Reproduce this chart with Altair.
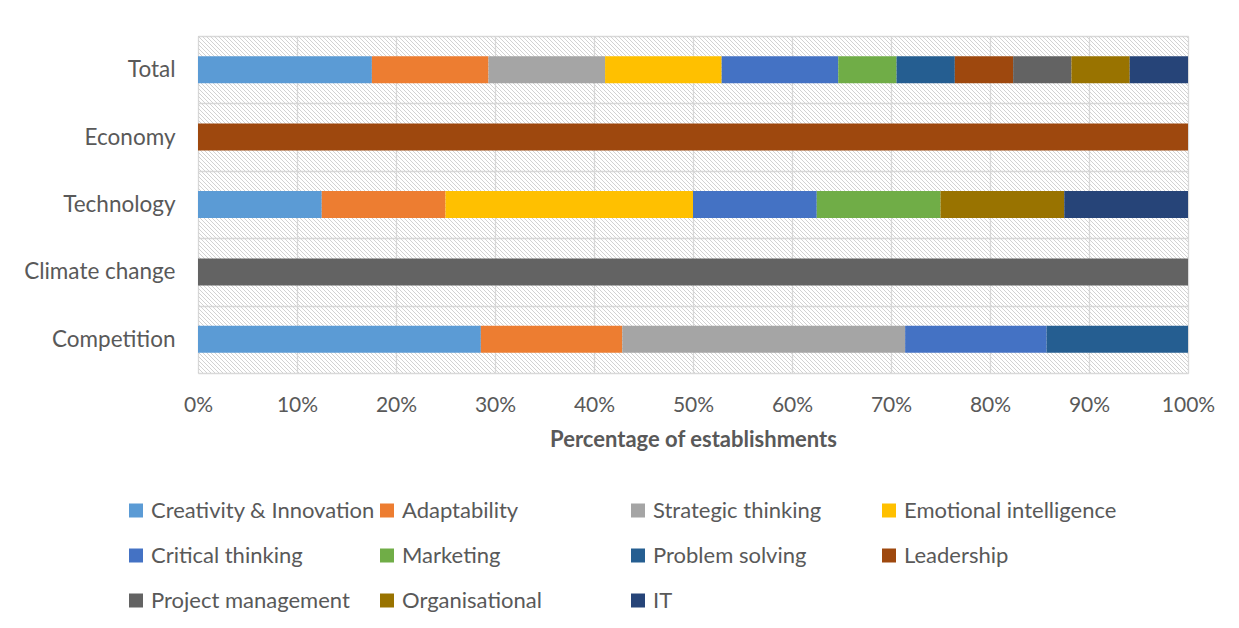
import math
import altair as alt
import pandas as pd

# ---- data ----
categories = ["Total", "Economy", "Technology", "Climate change", "Competition"]
skills = ["Creativity & Innovation", "Adaptability", "Strategic thinking",
          "Emotional intelligence", "Critical thinking", "Marketing",
          "Problem solving", "Leadership", "Project management",
          "Organisational", "IT"]
colors = ["#5B9BD5", "#ED7D31", "#A5A5A5", "#FFC000", "#4472C4", "#70AD47",
          "#255E91", "#9E480E", "#636363", "#997300", "#264478"]

total = [17.6, 11.8, 11.8, 11.8, 11.8, 5.9, 5.9, 5.9, 5.9, 5.9, 5.9]
economy = [0, 0, 0, 0, 0, 0, 0, 100, 0, 0, 0]
technology = [12.5, 12.5, 0, 25, 12.5, 12.5, 0, 0, 0, 12.5, 12.5]
climate_change = [0, 0, 0, 0, 0, 0, 0, 0, 100, 0, 0]
competition = [28.6, 14.3, 28.6, 0, 14.3, 0, 14.3, 0, 0, 0, 0]

series = dict(zip(categories, [total, economy, technology, climate_change, competition]))
rows = []
for cat, vals in series.items():
    for i, (sk, v) in enumerate(zip(skills, vals)):
        rows.append({"category": cat, "skill": sk, "pct": v, "idx": i})
df = pd.DataFrame(rows)

W, H = 990, 337
TEXT = "#595959"
FONT = "Lato"

# ---- hatch fill for the plot area (diagonal stripes as a gradient) ----
def hatch(w, h, period=2.83, frac=0.3, line="rgba(210,210,210,1)", gap="rgba(255,255,255,0)"):
    L = (w + h) / math.sqrt(2)
    step = period / L
    stops = []
    o = 0.0
    while o < 1:
        a = o
        b = min(o + frac * step, 1)
        c = min(o + step, 1)
        stops += [{"offset": round(a, 6), "color": line},
                  {"offset": round(b, 6), "color": line},
                  {"offset": round(b, 6), "color": gap},
                  {"offset": round(c, 6), "color": gap}]
        o += step
    s = (w + h) / (w * w + h * h)
    return {"gradient": "linear", "stops": stops,
            "x1": 0, "y1": 1, "x2": s * w, "y2": 1 - s * h}

bg = alt.Chart(alt.Data(values=[{"a": 1}])).mark_rect(fill=hatch(W, H)).encode(
    x=alt.value(0), x2=alt.value("width"), y=alt.value(0), y2=alt.value("height")
)

bars = alt.Chart(df).mark_bar(height=27).encode(
    x=alt.X("pct:Q", stack="normalize",
            scale=alt.Scale(domain=[0, 1]),
            axis=alt.Axis(format=".0%", values=[i / 10 for i in range(11)],
                          title="Percentage of establishments",
                          grid=True, gridColor="#d9d9d9", gridWidth=1.3,
                          ticks=False, domain=False, labelFlush=False,
                          labelFontSize=21, labelColor=TEXT, labelFont=FONT,
                          labelPadding=21,
                          titleFontSize=22, titleFont=FONT, titleColor=TEXT,
                          titleFontWeight="bold", titlePadding=14)),
    y=alt.Y("category:N", sort=categories,
            scale=alt.Scale(paddingInner=0, paddingOuter=0),
            axis=alt.Axis(title=None, tickBand="extent", grid=True,
                          gridColor="#d9d9d9", gridWidth=1.3,
                          ticks=False, domain=False,
                          labelFontSize=22.5, labelColor=TEXT, labelFont=FONT,
                          labelPadding=23)),
    color=alt.Color("skill:N", scale=alt.Scale(domain=skills, range=colors),
                    legend=alt.Legend(title=None, orient="none",
                                      legendX=-73, legendY=463.5,
                                      columns=4, direction="horizontal",
                                      gridAlign="all", columnPadding=1,
                                      rowPadding=23, padding=0,
                                      symbolType="square", symbolSize=196,
                                      symbolStrokeWidth=0, labelOffset=4,
                                      labelFontSize=22, labelFont=FONT,
                                      labelColor=TEXT, labelLimit=400)),
    order=alt.Order("idx:Q", sort="ascending"),
)

chart = alt.layer(bg, bars).properties(
    width=W, height=H,
    autosize="none",
    padding={"left": 190, "top": 28, "right": 35, "bottom": 240},
).configure_view(stroke="#d9d9d9", strokeWidth=1.3, fill="white").configure(
    background="white"
)

chart.save("out.html", embed_options={"renderer": "svg", "actions": False})
